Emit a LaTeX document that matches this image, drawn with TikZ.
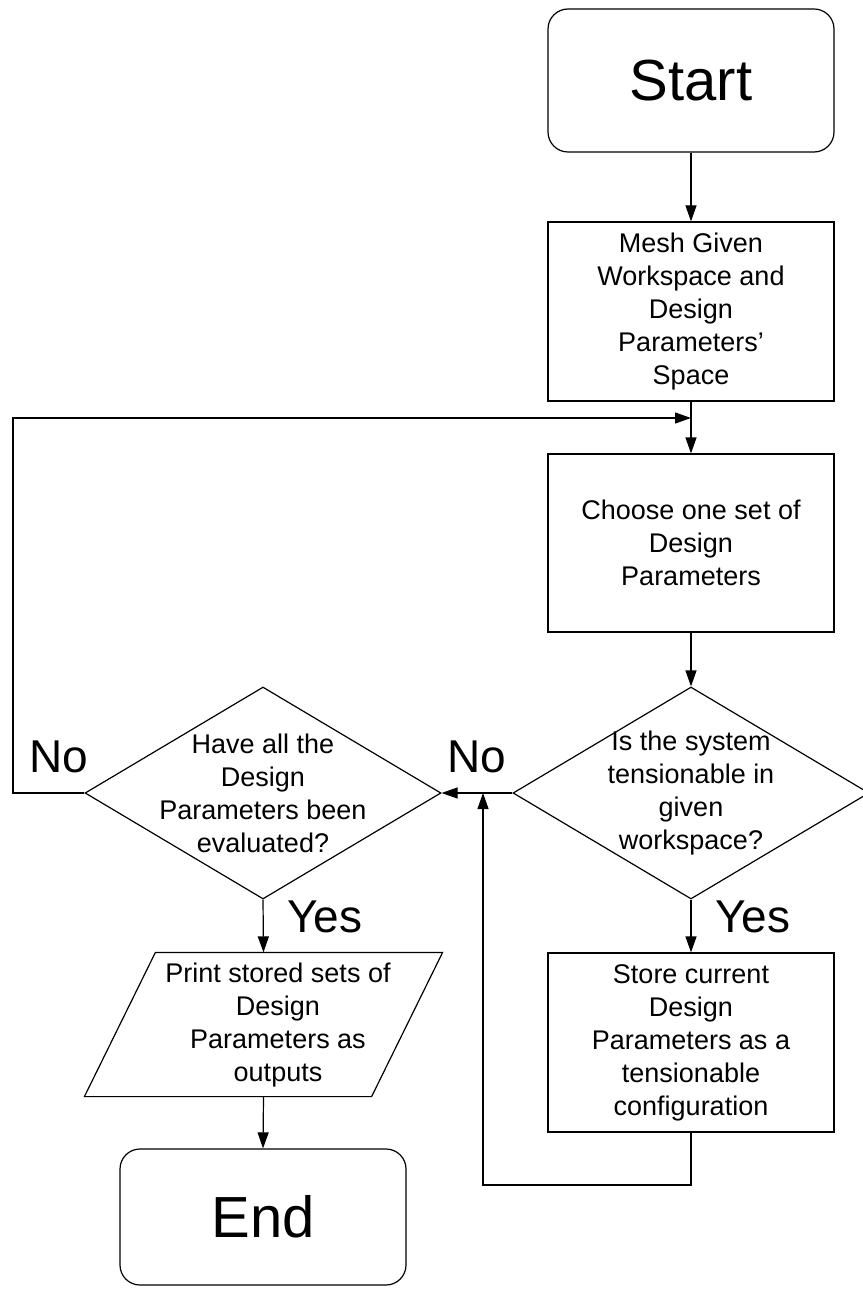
\documentclass[tikz,border=0pt]{standalone}
\usepackage{fontspec}
\setmainfont{Liberation Sans}
\usetikzlibrary{arrows.meta,shapes.geometric}
\begin{document}
\begin{tikzpicture}[x=1pt,y=-1pt,
  line width=1.2pt,
  >={Triangle[length=16pt,width=11pt]},
  body/.style={font=\fontsize{27}{33}\selectfont, align=center, inner sep=0pt},
  terminal/.style={draw, rounded corners=20pt, minimum width=286pt, minimum height=143pt, inner sep=0pt, font=\fontsize{58}{60}\selectfont},
  process/.style={draw, minimum width=286pt, body},
  decision/.style={draw, diamond, minimum width=356pt, minimum height=212pt, inner sep=0pt},
  answer/.style={font=\fontsize{46}{48}\selectfont, inner sep=0pt, anchor=base},
  flow/.style={->},
]
\useasboundingbox (0,0) rectangle (862,1289);

% main column
\node[terminal] (start) at (691,80.5) {Start};
\node[process, minimum height=179pt] (mesh) at (691,311.5)
  {Mesh Given\\Workspace and\\Design\\Parameters'\\Space};
\node[process, minimum height=178pt] (choose) at (691,543)
  {Choose one set of\\Design\\Parameters};
\node[decision] (q1) at (691,793) {};
\node[body] (q1t) at (691,793) {Is the system\\tensionable in\\given\\workspace?};
\node[process, minimum height=179pt] (store) at (691,1042.5)
  {Store current\\Design\\Parameters as a\\tensionable\\configuration};

% left column
\node[decision] (q2) at (263,793) {};
\node[body] (q2t) at (263,793) {Have all the\\Design\\Parameters been\\evaluated?};
\node[minimum width=357pt, minimum height=143pt, inner sep=0pt] (print) at (263.5,1024.5) {};
\draw (print.south west) -- ([xshift=71pt]print.north west) -- (print.north east)
  -- ([xshift=-71pt]print.south east) -- cycle;
\node[body] (printt) at (278,1025) {Print stored sets of\\Design\\Parameters as\\outputs};
\node[terminal, minimum height=136pt] (end) at (263,1217) {End};

% branch labels
\node[answer] (no1) at (59,772) {No};
\node[answer] (no2) at (477,772) {No};
\node[answer] (yes1) at (325,932) {Yes};
\node[answer] (yes2) at (753,932) {Yes};

% connectors
\coordinate (join) at (691,418);
\coordinate (loopL) at (13,793);
\coordinate (loopT) at (13,418);
\coordinate (backA) at (691,1185);
\coordinate (backB) at (483,1185);
\coordinate (backC) at (483,793);

\draw[flow] (start) -- (mesh);
\draw[flow] (mesh) -- (choose);
\draw[flow] (choose) -- (q1);
\draw[flow] (q1.west) -- (q2.east);
\draw[flow] (q1.south) -- (store.north);
\draw[flow] (q2.south) -- (print.north);
\draw[flow] (print.south) -- (end.north);
\draw[flow] (q2.west) -- (loopL) -- (loopT) -- (join);
\draw[flow] (store.south) -- (backA) -- (backB) -- (backC);
\end{tikzpicture}
\end{document}
